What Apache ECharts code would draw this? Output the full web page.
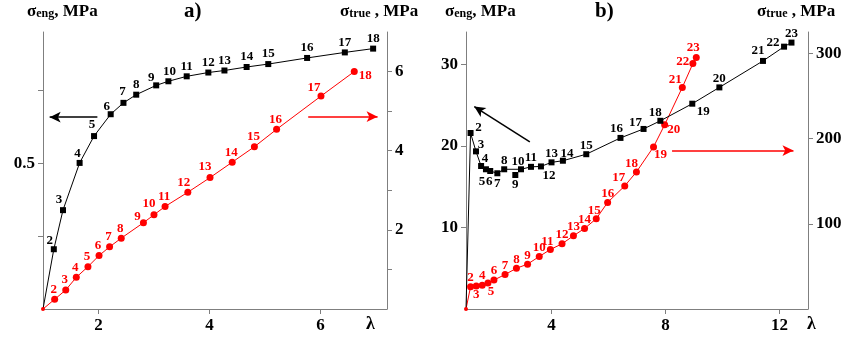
<!DOCTYPE html>
<html>
<head>
<meta charset="utf-8">
<script src="https://cdn.jsdelivr.net/npm/echarts@6/dist/echarts.min.js"></script>
<style>
  html, body { margin: 0; padding: 0; background: #fff; }
  #chart { width: 845px; height: 341px; }
</style>
</head>
<body>
<div id="chart"></div>
<script>
// panel a) : engineering stress (left axis) and true stress (right axis) vs draw ratio
const aBlackX = [1, 1.195, 1.36, 1.66, 1.92, 2.22, 2.45, 2.68, 3.04, 3.26, 3.59, 3.98, 4.27, 4.67, 5.06, 5.76, 6.44, 6.95];
const aBlackY = [0, 0.205, 0.339, 0.501, 0.593, 0.668, 0.707, 0.735, 0.767, 0.781, 0.798, 0.811, 0.818, 0.83, 0.84, 0.861, 0.88, 0.893];
const aRedX = [1, 1.21, 1.41, 1.6, 1.81, 2.01, 2.2, 2.41, 2.81, 3.0, 3.2, 3.61, 4.01, 4.41, 4.81, 5.21, 6.01, 6.61];
const aRedY = [0, 0.245, 0.48, 0.8, 1.07, 1.35, 1.57, 1.79, 2.18, 2.38, 2.59, 2.95, 3.32, 3.71, 4.1, 4.54, 5.38, 6.0];

// panel b)
const bBlackX = [1, 1.16, 1.35, 1.53, 1.7, 1.85, 2.1, 2.34, 2.73, 2.93, 3.28, 3.63, 4.0, 4.4, 5.22, 6.42, 7.23, 7.82, 8.94, 9.89, 11.42, 12.16, 12.42];
const bBlackY = [0, 21.6, 19.35, 17.55, 17.15, 16.94, 16.66, 17.15, 16.45, 17.15, 17.45, 17.5, 18.0, 18.2, 19.0, 21.0, 22.1, 23.1, 25.2, 27.2, 30.45, 32.2, 32.7];
const bRedX = [1, 1.16, 1.36, 1.57, 1.77, 1.98, 2.37, 2.77, 3.16, 3.57, 3.96, 4.37, 4.77, 5.16, 5.57, 5.97, 6.57, 6.98, 7.58, 7.97, 8.59, 8.96, 9.08];
const bRedY = [0, 26, 27, 28, 30.6, 34, 40.4, 47.8, 52.6, 61.6, 69.8, 76.5, 85.9, 94.5, 105.9, 125.1, 144.4, 160.8, 190.2, 216.1, 260, 287.9, 295];

// axis ticks / labels
const aXTicks = [2, 4, 6];
const aLeftTicks = [0.25, 0.5, 0.75];
const aLeftLabels = [0.5];
const aRightTicks = [1, 2, 3, 4, 5, 6];
const aRightLabels = [2, 4, 6];
const bXTicks = [4, 8, 12];
const bLeftTicks = [10, 20, 30];
const bRightTicks = [100, 200, 300];

// black point 9 of panel b is not joined by the line
const bBlackOffLine = [9];

// label offsets (px) by point number
const aBlackOff = { 2: [-4, -9], 3: [-4, -11], 4: [-2, -9], 5: [-2, -11], 6: [-4, -8], 7: [-1, -11], 9: [-5, -8], 10: [1, -10] };
const aRedOff = { 9: [-6, -6], 10: [-5, -11], 12: [-4, -10], 13: [-5, -11], 17: [-7, -8], 18: [11, 4] };
const bBlackOff = { 2: [8, -5], 3: [5, -7], 4: [4, -7], 5: [-4, 12], 6: [-1, 11], 7: [0, 10], 9: [0, 10], 10: [-3, -8], 12: [8, 9],
  14: [4, -7], 16: [-4, -9], 17: [-8, -6], 18: [-5, -8], 19: [11, 8], 21: [-5, -10], 22: [-11, -4] };
const bRedOff = { 3: [0, 9], 5: [3, 9], 11: [-3, -8], 15: [-2, -8], 17: [-6, -8], 18: [-5, -8], 19: [7, 8], 20: [9, 5],
  21: [-7, -8], 22: [-10, -2], 23: [-3, -10] };

const SERIF = "'Liberation Serif', 'Times New Roman', serif";
const AXIS_GREY = '#7f7f7f';

const points = (xs, ys, offs, def, size, firstSize) =>
  xs.map((x, i) => ({
    name: i ? String(i + 1) : '',
    value: [x, ys[i]],
    symbolSize: i ? size : firstSize,
    label: { show: i > 0, offset: offs[i + 1] || def },
  }));

const lineSeries = (data, color, symbol, xi, yi, extra) => ({
  type: 'line',
  xAxisIndex: xi,
  yAxisIndex: yi,
  data: data,
  symbol: symbol,
  showAllSymbol: true,
  animation: false,
  itemStyle: { color: color, opacity: 1 },
  lineStyle: { color: color, width: 1 },
  label: {
    show: true,
    position: 'inside',
    formatter: '{b}',
    color: color,
    fontFamily: SERIF,
    fontWeight: 'bold',
    fontSize: 13,
  },
  ...extra,
});

const arrow = (from, to, color, width) => ({
  silent: true,
  animation: false,
  symbol: ['none', 'arrow'],
  symbolSize: [8, 11],
  label: { show: false },
  lineStyle: { color: color, width: width, type: 'solid' },
  data: [[{ coord: from }, { coord: to }]],
});

const xAxisOf = (grid, min, max, ticks) => ({
  type: 'value',
  gridIndex: grid,
  min: min,
  max: max,
  axisLine: { show: true, onZero: false, lineStyle: { color: AXIS_GREY, width: 1 } },
  axisTick: { show: true, length: 5, customValues: ticks, lineStyle: { color: AXIS_GREY } },
  axisLabel: { customValues: ticks, color: '#000', fontFamily: SERIF, fontWeight: 'bold', fontSize: 17, margin: 8 },
  splitLine: { show: false },
});

const yAxisOf = (grid, pos, min, max, ticks, labels, fmt) => ({
  type: 'value',
  gridIndex: grid,
  position: pos,
  min: min,
  max: max,
  axisLine: { show: true, onZero: false, lineStyle: { color: AXIS_GREY, width: 1 } },
  axisTick: { show: true, length: 5, customValues: ticks, lineStyle: { color: AXIS_GREY } },
  axisLabel: { customValues: labels, color: '#000', fontFamily: SERIF, fontWeight: 'bold', fontSize: 17, margin: 8, formatter: fmt },
  splitLine: { show: false },
});

// panel b black: split into joined line and the lone point
const bBlackAll = points(bBlackX, bBlackY, bBlackOff, [0, -9], 6, 0);
const bBlackLine = bBlackAll.filter((p, i) => !bBlackOffLine.includes(i + 1));
const bBlackLone = bBlackAll.filter((p, i) => bBlackOffLine.includes(i + 1));

const titleRich = {
  s: { fontFamily: SERIF, fontWeight: 'bold', fontSize: 17, fill: '#000', verticalAlign: 'bottom', lineHeight: 20 },
  sub: { fontFamily: SERIF, fontWeight: 'bold', fontSize: 12, fill: '#000', verticalAlign: 'bottom', lineHeight: 16 },
};
const titleText = (left, sub, sep) => ({
  type: 'text',
  left: left,
  top: 3,
  style: { text: '{s|σ}{sub|' + sub + '}{s|' + sep + 'MPa}', rich: titleRich },
});
const plainText = (left, top, text, size) => ({
  type: 'text',
  left: left,
  top: top,
  style: { text: text, fontFamily: SERIF, fontWeight: 'bold', fontSize: size, fill: '#000' },
});

const chart = echarts.init(document.getElementById('chart'));
chart.setOption({
  backgroundColor: '#fff',
  animation: false,
  grid: [
    { left: 43, right: 458, top: 32, bottom: 32 },
    { left: 466, right: 37, top: 32, bottom: 32 },
  ],
  xAxis: [xAxisOf(0, 1, 7.2, aXTicks), xAxisOf(1, 1, 13, bXTicks)],
  yAxis: [
    yAxisOf(0, 'left', 0, 0.95, aLeftTicks, aLeftLabels, (v) => String(v)),
    yAxisOf(0, 'right', 0, 7, aRightTicks, aRightLabels),
    yAxisOf(1, 'left', 0, 34, bLeftTicks, bLeftTicks),
    yAxisOf(1, 'right', 0, 325, bRightTicks, bRightTicks),
  ],
  series: [
    lineSeries(points(aBlackX, aBlackY, aBlackOff, [0, -10], 6, 0), '#000', 'rect', 0, 0, {
      markLine: arrow([1.98, 0.658], [1.12, 0.658], '#000', 1.5),
    }),
    lineSeries(points(aRedX, aRedY, aRedOff, [-1, -10], 7, 4), '#ff0000', 'circle', 0, 1, {
      markLine: arrow([5.78, 4.86], [7.03, 4.86], '#ff0000', 1.5),
    }),
    lineSeries(points(bRedX, bRedY, bRedOff, [0, -9], 7, 4), '#ff0000', 'circle', 1, 3, {
      markLine: arrow([8.23, 185.9], [12.49, 185.9], '#ff0000', 1.5),
    }),
    lineSeries(bBlackLine, '#000', 'rect', 1, 2, {
      markLine: arrow([3.24, 20.5], [1.29, 24.85], '#000', 1.5),
    }),
    lineSeries(bBlackLone, '#000', 'rect', 1, 2, { type: 'scatter' }),
  ],
  graphic: [
    titleText(27, 'eng', ', '),
    plainText(184, 1, 'a)', 21),
    titleText(340, 'true', ' , '),
    titleText(445, 'eng', ', '),
    plainText(595, 1, 'b)', 21),
    titleText(757, 'true', ' , '),
    plainText(366, 315, 'λ', 18),
    plainText(807, 315, 'λ', 18),
  ],
});
</script>
</body>
</html>
